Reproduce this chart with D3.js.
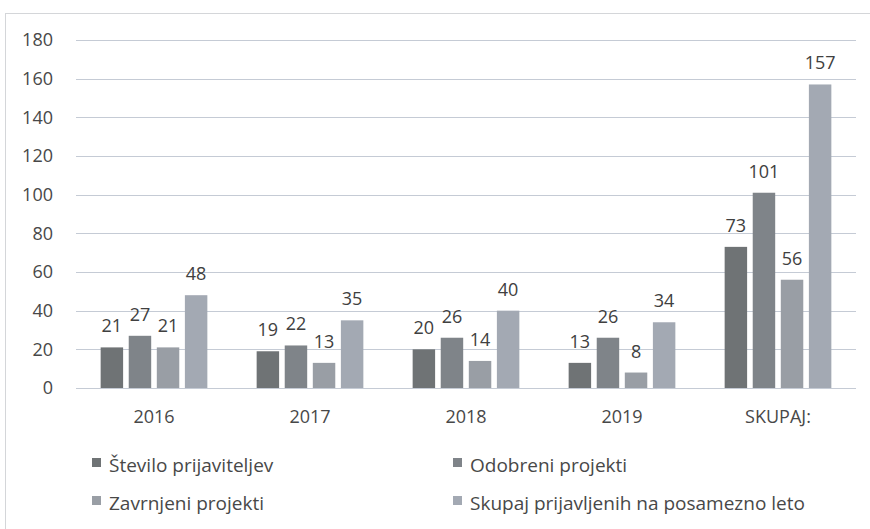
<!DOCTYPE html>
<html>
<head>
<meta charset="utf-8">
<script src="https://cdn.jsdelivr.net/npm/d3@7"></script>
<style>
  body { margin: 0; background: #fff; }
  svg { display: block; font-family: "Open Sans", sans-serif; }
</style>
</head>
<body>
<script>
// data
const categories = ["2016", "2017", "2018", "2019", "SKUPAJ:"];
const series = ["Število prijaviteljev", "Odobreni projekti", "Zavrnjeni projekti", "Skupaj prijavljenih na posamezno leto"];
const prijavitelji = [21, 19, 20, 13, 73];
const odobreni = [27, 22, 26, 26, 101];
const zavrnjeni = [21, 13, 14, 8, 56];
const skupaj = [48, 35, 40, 34, 157];
const yTicks = [0, 20, 40, 60, 80, 100, 120, 140, 160, 180];
const colors = ["#6f7375", "#7f8489", "#999ea5", "#a3a9b3"];

const width = 870, height = 529;
const values = [prijavitelji, odobreni, zavrnjeni, skupaj];
const rows = categories.map((c, i) => ({cat: c, vals: values.map(v => v[i])}));

const svg = d3.select("body").append("svg")
    .attr("width", width)
    .attr("height", height);

// frame (only left and top edges show)
svg.append("rect")
    .attr("x", 5.5).attr("y", 13.5)
    .attr("width", 1000).attr("height", 1000)
    .attr("fill", "none")
    .attr("stroke", "#d4d6d9");

const x0 = d3.scaleBand()
    .domain(categories)
    .range([76, 856])
    .paddingInner(0.28)
    .paddingOuter(0.14);

const x1 = d3.scaleBand()
    .domain(d3.range(series.length))
    .range([0, x0.bandwidth()])
    .paddingInner(0.2)
    .paddingOuter(0.1);

const y = d3.scaleLinear()
    .domain([0, 180])
    .range([388, 40]);

// gridlines
svg.append("g")
  .selectAll("line")
  .data(yTicks)
  .join("line")
    .attr("x1", 76).attr("x2", 856)
    .attr("y1", d => Math.round(y(d)) + 0.5)
    .attr("y2", d => Math.round(y(d)) + 0.5)
    .attr("stroke", "#c5cbd5")
    .attr("stroke-width", 1);

// y axis labels
const yAxis = svg.append("g")
    .attr("transform", "translate(53,0)")
    .call(d3.axisLeft(y).tickValues(yTicks).tickSize(0).tickPadding(0));
yAxis.select(".domain").remove();
yAxis.selectAll("text")
    .attr("font-family", "Open Sans, sans-serif")
    .attr("font-size", 18)
    .attr("fill", "#484848");

// x axis labels
const xAxis = svg.append("g")
    .attr("transform", "translate(0,410)")
    .call(d3.axisBottom(x0).tickSize(0).tickPadding(0));
xAxis.select(".domain").remove();
xAxis.selectAll("text")
    .attr("font-family", "Open Sans, sans-serif")
    .attr("font-size", 18)
    .attr("fill", "#484848");

// bars
const group = svg.append("g")
  .selectAll("g")
  .data(rows)
  .join("g")
    .attr("transform", d => `translate(${x0(d.cat)},0)`);

group.selectAll("rect")
  .data(d => d.vals)
  .join("rect")
    .attr("x", (d, i) => x1(i))
    .attr("y", d => y(d))
    .attr("width", x1.bandwidth())
    .attr("height", d => y(0) - y(d))
    .attr("fill", (d, i) => colors[i]);

group.selectAll("text")
  .data(d => d.vals)
  .join("text")
    .attr("x", (d, i) => x1(i) + x1.bandwidth() / 2)
    .attr("y", d => y(d) - 15)
    .attr("text-anchor", "middle")
    .attr("font-size", 18)
    .attr("fill", "#404040")
    .text(d => d);

// legend
const legendPos = [[92, 472], [453, 472], [92, 510], [453, 510]];
const legend = svg.append("g")
  .selectAll("g")
  .data(series)
  .join("g")
    .attr("transform", (d, i) => `translate(${legendPos[i][0]},${legendPos[i][1]})`);

legend.append("rect")
    .attr("x", 0).attr("y", -14)
    .attr("width", 9).attr("height", 9)
    .attr("fill", (d, i) => colors[i]);

legend.append("text")
    .attr("x", 17)
    .attr("y", 0)
    .attr("font-size", 19)
    .attr("fill", "#484848")
    .text(d => d);
</script>
</body>
</html>
